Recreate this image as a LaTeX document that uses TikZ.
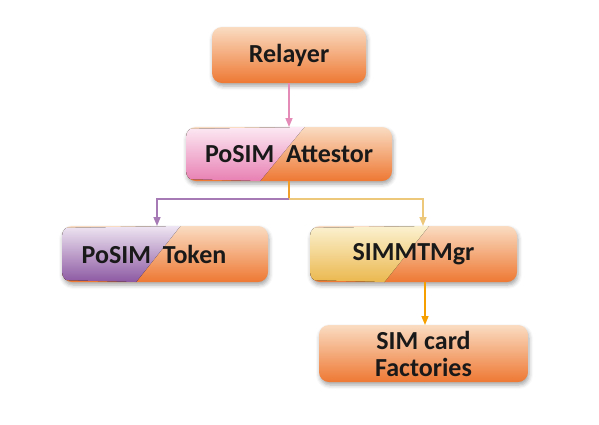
\documentclass[tikz,border=0pt]{standalone}
\usepackage{fontspec}
\setmainfont{Carlito}
\usetikzlibrary{calc,arrows.meta,shadows.blur}
\definecolor{orTop}{HTML}{FADCC2}
\definecolor{orBot}{HTML}{EE7833}
\definecolor{pkTop}{HTML}{FCE9F3}
\definecolor{pkBot}{HTML}{E880B3}
\definecolor{puTop}{HTML}{EEE5F2}
\definecolor{puBot}{HTML}{8C58A2}
\definecolor{ylTop}{HTML}{FBF1D0}
\definecolor{ylBot}{HTML}{EBB84E}
\definecolor{lnPink}{HTML}{E48BB8}
\definecolor{lnPurple}{HTML}{A57AB5}
\definecolor{lnYellow}{HTML}{EDC77A}
\definecolor{lnOrange}{HTML}{F0A02A}
\definecolor{lnOrange2}{HTML}{F5A000}
\tikzset{
  boxfont/.style={text=black!90, font=\fontsize{26}{27}\selectfont\bfseries, align=center},
  box/.style={rectangle, rounded corners=10pt, inner sep=0pt, outer sep=0pt,
    top color=orTop, bottom color=orBot, boxfont,
    blur shadow={shadow xshift=1pt, shadow yshift=-3pt, shadow blur radius=4pt, shadow opacity=35}},
  split/.style 2 args={path picture={
    \fill[sharp corners, top color=#1, bottom color=#2]
      ([shift={(-2pt,-2pt)}]path picture bounding box.north west)
      -- ($(path picture bounding box.north west)!0.575!(path picture bounding box.north east)$)
      -- ($(path picture bounding box.south west)!0.36!(path picture bounding box.south east)$)
      -- ([shift={(-2pt,2pt)}]path picture bounding box.south west) -- cycle;}},
  conn/.style={line width=1.5pt, -{Triangle[length=9pt,width=7pt]}},
  plain/.style={line width=1.5pt}
}
\begin{document}
\begin{tikzpicture}[x=1pt,y=-1pt]
\path[use as bounding box] (0,0) rectangle (599,424);
\node[box, minimum width=154pt, minimum height=56pt] (relayer) at (289,55) {Relayer};
\node[box, split={pkTop}{pkBot}, minimum width=206pt, minimum height=54pt] (attestor) at (289,154) {PoSIM\ \ Attestor};
\node[box, split={puTop}{puBot}, minimum width=206pt, minimum height=56pt] (token) at (165,254) {};
\node[boxfont] (tokentext) at (154,254) {PoSIM\ \ Token};
\node[box, split={ylTop}{ylBot}, minimum width=207pt, minimum height=56pt] (simmt) at (413.5,254) {SIMMTMgr};
\node[box, minimum width=209pt, minimum height=57pt] (fact) at (423.5,353.5) {SIM card\\Factories};
\coordinate (j) at (289,199);
\draw[conn, lnPink] (relayer) -- (attestor);
\draw[plain, lnOrange] (attestor.south) -- (j);
\draw[conn, lnPurple] (j) -| ([xshift=-8pt]token.north);
\draw[conn, lnYellow] (j) -| ([xshift=9.5pt]simmt.north);
\draw[conn, lnOrange2] ([xshift=1.5pt]fact.north |- simmt.south) -- ([xshift=1.5pt]fact.north);
\end{tikzpicture}
\end{document}
